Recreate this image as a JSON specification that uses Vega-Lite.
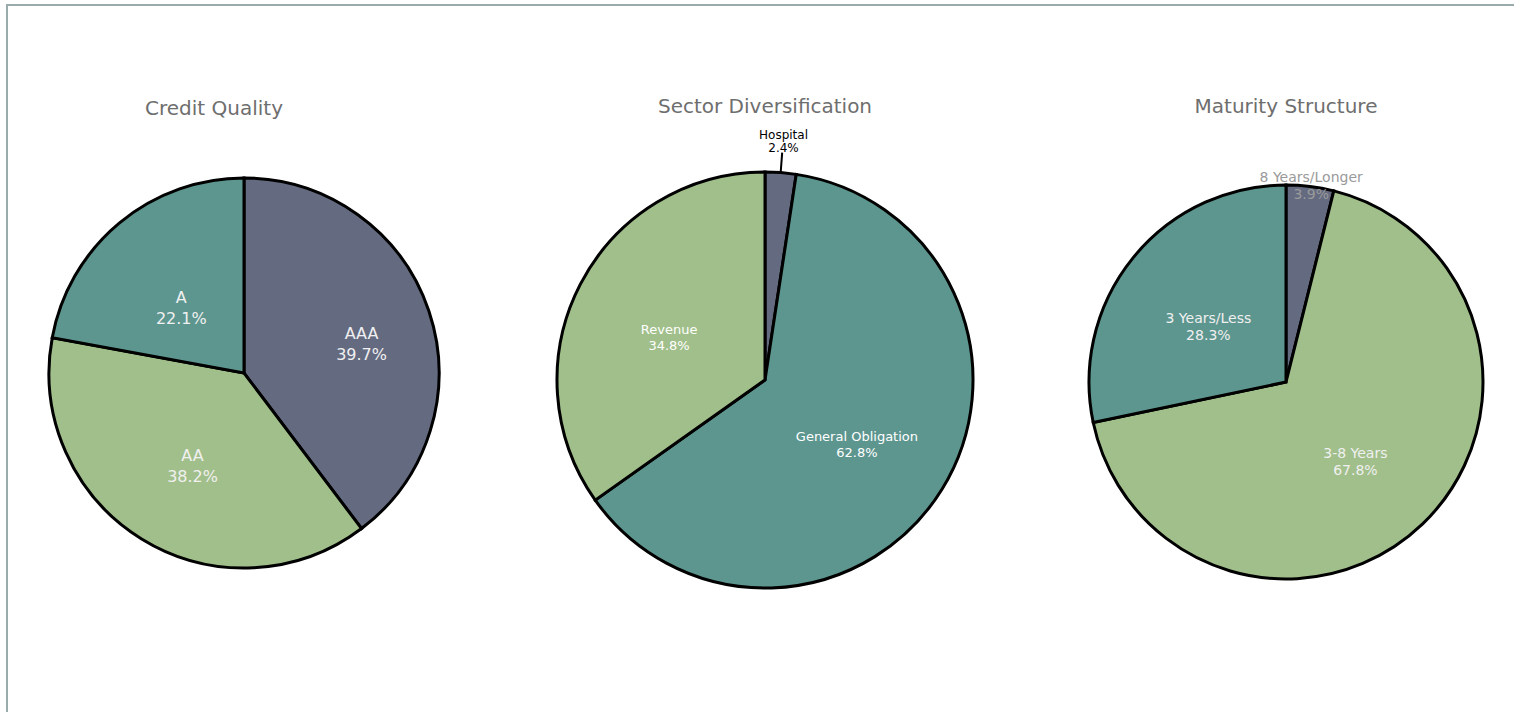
{
  "$schema": "https://vega.github.io/schema/vega-lite/v6.json",
  "width": 1514,
  "height": 712,
  "autosize": {"type": "fit", "contains": "padding"},
  "padding": {"left": 7, "top": 5, "right": 0, "bottom": 0},
  "background": "#ffffff",
  "config": {
    "view": {"stroke": "#9aabab", "strokeWidth": 2, "strokeDash": [1507, 2214, 707]},
    "font": "DejaVu Sans"
  },
  "data": {
    "values": [
      {"chart": "Credit Quality", "cat": "AAA", "pct": 0.397, "ord": 1},
      {"chart": "Credit Quality", "cat": "AA", "pct": 0.382, "ord": 2},
      {"chart": "Credit Quality", "cat": "A", "pct": 0.221, "ord": 3},
      {"chart": "Sector Diversification", "cat": "Hospital", "pct": 0.024, "ord": 1},
      {"chart": "Sector Diversification", "cat": "General Obligation", "pct": 0.628, "ord": 2},
      {"chart": "Sector Diversification", "cat": "Revenue", "pct": 0.348, "ord": 3},
      {"chart": "Maturity Structure", "cat": "8 Years/Longer", "pct": 0.039, "ord": 1},
      {"chart": "Maturity Structure", "cat": "3-8 Years", "pct": 0.678, "ord": 2},
      {"chart": "Maturity Structure", "cat": "3 Years/Less", "pct": 0.283, "ord": 3}
    ]
  },
  "transform": [
    {"stack": "pct", "groupby": ["chart"], "sort": [{"field": "ord", "order": "ascending"}], "as": ["t0", "t1"]},
    {"calculate": "(datum.t0 + datum.t1) / 2", "as": "mid"},
    {"calculate": "datum.cat + '\\n' + format(datum.pct, '.1%')", "as": "lbl"}
  ],
  "encoding": {
    "x": {
      "field": "chart",
      "type": "nominal",
      "scale": {"type": "point", "domain": ["Credit Quality", "Sector Diversification", "Maturity Structure"], "range": [237, 1279], "padding": 0},
      "axis": null
    }
  },
  "layer": [
    {
      "transform": [{"filter": "datum.ord === 1"}],
      "layer": [
        {
          "transform": [{"filter": "datum.chart === 'Credit Quality'"}],
          "mark": {"type": "text", "fontSize": 20, "color": "#6e6e6e", "baseline": "alphabetic", "dy": -244, "dx": -30},
          "encoding": {"text": {"field": "chart"}}
        },
        {
          "transform": [{"filter": "datum.chart !== 'Credit Quality'"}],
          "mark": {"type": "text", "fontSize": 20, "color": "#6e6e6e", "baseline": "alphabetic", "dy": -246},
          "encoding": {"text": {"field": "chart"}}
        }
      ]
    },
    {
      "transform": [{"filter": "datum.chart === 'Credit Quality'"}],
      "layer": [
        {
          "mark": {"type": "arc", "outerRadius": 195, "stroke": "#000000", "strokeWidth": 3, "yOffset": 14.5},
          "encoding": {
            "theta": {"field": "t0", "type": "quantitative", "scale": {"domain": [0, 1]}},
            "theta2": {"field": "t1"},
            "color": {
              "field": "cat", "type": "nominal", "legend": null,
              "scale": {
                "domain": ["AAA", "AA", "A", "Hospital", "General Obligation", "Revenue", "8 Years/Longer", "3-8 Years", "3 Years/Less"],
                "range": ["#646a80", "#a1bf8a", "#5d968f", "#646a80", "#5d968f", "#a1bf8a", "#646a80", "#a1bf8a", "#5d968f"]
              }
            }
          }
        },
        {
          "transform": [{"filter": "datum.cat === 'AAA'"}],
          "mark": {"type": "text", "radius": 124, "fontSize": 16, "lineHeight": 21, "lineBreak": "\n", "color": "#f0f0f0", "align": "center", "baseline": "middle", "yOffset": 14.5},
          "encoding": {"theta": {"field": "mid", "type": "quantitative"}, "text": {"field": "lbl"}}
        },
        {
          "transform": [{"filter": "datum.cat !== 'AAA'"}],
          "mark": {"type": "text", "radius": 98, "fontSize": 16, "lineHeight": 21, "lineBreak": "\n", "color": "#f0f0f0", "align": "center", "baseline": "middle", "yOffset": 14.5},
          "encoding": {"theta": {"field": "mid", "type": "quantitative"}, "text": {"field": "lbl"}}
        }
      ]
    },
    {
      "transform": [{"filter": "datum.chart === 'Sector Diversification'"}],
      "layer": [
        {
          "mark": {"type": "arc", "outerRadius": 208, "stroke": "#000000", "strokeWidth": 3, "yOffset": 21.5},
          "encoding": {
            "theta": {"field": "t0", "type": "quantitative"},
            "theta2": {"field": "t1"},
            "color": {"field": "cat", "type": "nominal", "legend": null}
          }
        },
        {
          "transform": [{"filter": "datum.cat === 'Hospital'"}],
          "mark": {"type": "arc", "innerRadius": 208, "outerRadius": 228, "padAngle": 2, "fillOpacity": 0, "stroke": "#000000", "strokeWidth": 2, "yOffset": 21.5},
          "encoding": {
            "theta": {"field": "t0", "type": "quantitative"},
            "theta2": {"field": "t1"}
          }
        },
        {
          "transform": [{"filter": "datum.cat === 'Hospital'"}],
          "mark": {"type": "text", "radius": 246, "fontSize": 12, "lineHeight": 13, "lineBreak": "\n", "color": "#000000", "align": "center", "baseline": "middle", "yOffset": 21.5},
          "encoding": {"theta": {"field": "mid", "type": "quantitative"}, "text": {"field": "lbl"}}
        },
        {
          "transform": [{"filter": "datum.cat !== 'Hospital'"}],
          "mark": {"type": "text", "radius": 108, "fontSize": 13, "lineHeight": 16, "lineBreak": "\n", "color": "#ffffff", "align": "center", "baseline": "middle", "yOffset": 21.5},
          "encoding": {"theta": {"field": "mid", "type": "quantitative"}, "text": {"field": "lbl"}}
        }
      ]
    },
    {
      "transform": [{"filter": "datum.chart === 'Maturity Structure'"}],
      "layer": [
        {
          "mark": {"type": "arc", "outerRadius": 197, "stroke": "#000000", "strokeWidth": 3, "yOffset": 23.5},
          "encoding": {
            "theta": {"field": "t0", "type": "quantitative"},
            "theta2": {"field": "t1"},
            "color": {"field": "cat", "type": "nominal", "legend": null}
          }
        },
        {
          "transform": [{"filter": "datum.cat === '8 Years/Longer'"}],
          "mark": {"type": "text", "radius": 206, "fontSize": 14, "lineHeight": 17, "lineBreak": "\n", "color": "#9a9a9a", "align": "center", "baseline": "middle", "yOffset": 23.5},
          "encoding": {"theta": {"field": "mid", "type": "quantitative"}, "text": {"field": "lbl"}}
        },
        {
          "transform": [{"filter": "datum.cat !== '8 Years/Longer'"}],
          "mark": {"type": "text", "radius": 100, "fontSize": 14, "lineHeight": 17, "lineBreak": "\n", "color": "#f0f0f0", "align": "center", "baseline": "middle", "yOffset": 23.5},
          "encoding": {"theta": {"field": "mid", "type": "quantitative"}, "text": {"field": "lbl"}}
        }
      ]
    }
  ]
}
